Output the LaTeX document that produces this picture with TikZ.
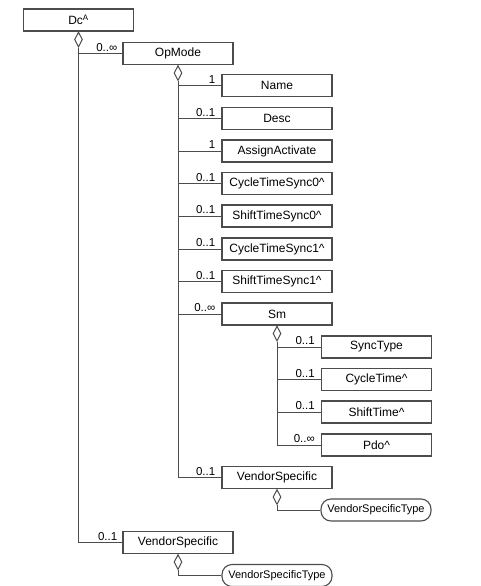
\documentclass[tikz,border=0pt]{standalone}
\usepackage{fontspec}
\setmainfont{Liberation Sans}
\usetikzlibrary{positioning,shapes.geometric}

\begin{document}
\begin{tikzpicture}[x=1pt, y=-1pt,
    elem/.style={rectangle, draw=black!70, line width=1.1pt, fill=white, minimum width=110pt, minimum height=22pt, inner sep=0pt, font=\fontsize{12}{14}\selectfont},
    typebox/.style={elem, rounded corners=10pt, font=\fontsize{11}{13}\selectfont},
    agg/.style={diamond, draw=black!70, line width=1pt, fill=white, minimum width=8pt, minimum height=15pt, inner sep=0pt},
    link/.style={draw=black!70, line width=1pt},
    mult/.style={font=\fontsize{11.5}{13}\selectfont, inner sep=1pt}
]
    \useasboundingbox (0,0) rectangle (480,586);

    % root and its two children
    \node[elem] (dc) at (78.5,20) {Dc\textsuperscript{A}};
    \node[agg, below=0pt of dc] (dcd) {};
    \node[elem] (opmode) at (178,53.5) {OpMode};
    \node[elem] (vs) at (178,542.5) {VendorSpecific};
    \draw[link] (dcd.south) |- (opmode.west);
    \draw[link] (dcd.south) |- (vs.west);
    \node[mult, above left=1pt and 4pt of opmode.west] {0..∞};
    \node[mult, above left=1pt and 4pt of vs.west] {0..1};

    % OpMode children, evenly spaced
    \node[agg, below=0pt of opmode] (opd) {};
    \foreach \n/\t/\m/\y in {name/Name/1/85.5, desc/Desc/0..1/118.5, assign/AssignActivate/1/151,
        cts0/CycleTimeSync0\textasciicircum/0..1/183.5, sts0/ShiftTimeSync0\textasciicircum/0..1/216,
        cts1/CycleTimeSync1\textasciicircum/0..1/249, sts1/ShiftTimeSync1\textasciicircum/0..1/281.5,
        sm/Sm/0..∞/314, opvs/VendorSpecific/0..1/477.5} {
        \node[elem] (\n) at (277,\y) {\t};
        \draw[link] (opd.south) |- (\n.west);
        \node[mult, above left=1pt and 5pt of \n.west] {\m};
    }

    % Sm children
    \node[agg, below=0pt of sm] (smd) {};
    \foreach \n/\t/\m/\y in {synctype/SyncType/0..1/347, cycletime/CycleTime\textasciicircum/0..1/379.5,
        shifttime/ShiftTime\textasciicircum/0..1/412, pdo/Pdo\textasciicircum/0..∞/445} {
        \node[elem] (\n) at (376.5,\y) {\t};
        \draw[link] (smd.south) |- (\n.west);
        \node[mult, above left=1pt and 5pt of \n.west] {\m};
    }

    % vendor specific types
    \node[agg, below=0pt of opvs] (opvsd) {};
    \node[typebox] (opvst) at (376,510) {VendorSpecificType};
    \draw[link] (opvsd.south) |- (opvst.west);

    \node[agg, below=0pt of vs] (vsd) {};
    \node[typebox] (vst) at (277,575.5) {VendorSpecificType};
    \draw[link] (vsd.south) |- (vst.west);
\end{tikzpicture}
\end{document}
